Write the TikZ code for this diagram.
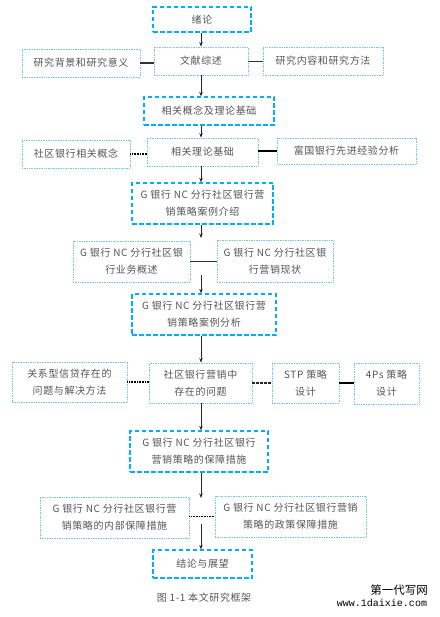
\documentclass[tikz,border=0pt]{standalone}
\usepackage{fontspec}
\setmainfont{Noto Sans CJK SC}[LetterSpace=6]
\newfontfamily\plaincjk{Noto Sans CJK SC}
\newfontfamily\webfont{Liberation Mono}
\usetikzlibrary{positioning,calc,arrows.meta}

\definecolor{mainblue}{RGB}{0,176,240}
\definecolor{subblue}{RGB}{110,200,238}
\definecolor{txtgray}{RGB}{85,85,85}

\tikzset{
  mainbox/.style={draw=mainblue, dashed, dash pattern=on 4.5pt off 2.5pt, line width=1.3pt, rectangle, inner sep=2pt, text=txtgray, align=center, font=\fontsize{10}{17}\selectfont},
  subbox/.style={draw=subblue, densely dotted, line width=0.7pt, rectangle, inner sep=2pt, text=txtgray, align=center, font=\fontsize{10}{17}\selectfont},
  arr/.style={-{Stealth[length=4.5pt,width=3.5pt]}, line width=0.7pt, black!85},
  thinlink/.style={line width=0.7pt, black!80},
  thicklink/.style={line width=1.6pt, black},
  dotlink/.style={line width=1.4pt, black, dash pattern=on 0.8pt off 0.8pt},
  dashlink/.style={line width=1.2pt, black!85, dash pattern=on 2.5pt off 1.5pt}
}

\begin{document}
\begin{tikzpicture}[x=1pt, y=-1pt]
    \useasboundingbox (0,0) rectangle (439,617);
    \coordinate (spine) at (201,0);

    % intro
    \node [mainbox, minimum width=98pt, minimum height=25pt] (xulun) at (202,19.5) {绪论};
    \node [subbox, minimum width=94pt, minimum height=28pt] (wenxian) at (201,61) {文献综述};
    \node [subbox, minimum width=118pt, minimum height=28pt] (beijing) at (81,63) {研究背景和研究意义};
    \node [subbox, minimum width=120pt, minimum height=28pt] (fangfa) at (323,61) {研究内容和研究方法};

    % theory
    \node [mainbox, minimum width=130pt, minimum height=28pt] (lilun) at (209,111) {相关概念及理论基础};
    \node [subbox, minimum width=111pt, minimum height=28pt] (jichu) at (202.5,152) {相关理论基础};
    \node [subbox, minimum width=108pt, minimum height=28pt] (gainian) at (76,154) {社区银行相关概念};
    \node [subbox, minimum width=139pt, minimum height=26pt] (fuguo) at (346.5,151) {富国银行先进经验分析};

    % case
    \node [mainbox, minimum width=141pt, minimum height=41pt] (jieshao) at (202.5,203.5) {G 银行 NC 分行社区银行营\\销策略案例介绍};
    \node [subbox, minimum width=117pt, minimum height=41pt] (yewu) at (131.5,261.5) {G 银行 NC 分行社区银\\行业务概述};
    \node [subbox, minimum width=116pt, minimum height=42pt] (xianzhuang) at (275,261) {G 银行 NC 分行社区银\\行营销现状};

    % analysis
    \node [mainbox, minimum width=144pt, minimum height=41pt] (fenxi) at (204,314.5) {G 银行 NC 分行社区银行营\\销策略案例分析};
    \node [subbox, minimum width=115pt, minimum height=40pt] (xindai) at (69.5,382) {关系型信贷存在的\\问题与解决方法};
    \node [subbox, minimum width=103pt, minimum height=40pt] (wenti) at (200.5,383) {社区银行营销中\\存在的问题};
    \node [subbox, minimum width=67pt, minimum height=40pt] (stp) at (305.5,383) {STP 策略\\设计};
    \node [subbox, minimum width=65pt, minimum height=41pt] (sips) at (386.5,383.5) {4Ps 策略\\设计};

    % measures
    \node [mainbox, minimum width=138pt, minimum height=41pt] (baozhang) at (199,451.5) {G 银行 NC 分行社区银行\\营销策略的保障措施};
    \node [subbox, minimum width=149pt, minimum height=41pt] (neibu) at (114.5,517.5) {G 银行 NC 分行社区银行营\\销策略的内部保障措施};
    \node [subbox, minimum width=151pt, minimum height=41pt] (zhengce) at (290.5,516.5) {G 银行 NC 分行社区银行营销\\策略的政策保障措施};
    \node [mainbox, minimum width=99pt, minimum height=28pt] (jielun) at (202.5,564) {结论与展望};

    % caption and mark
    \node [text=txtgray, font=\fontsize{10}{12}\selectfont] (caption) at (204,598) {图 1-1 本文研究框架};
    \node [font=\plaincjk\fontsize{11.5}{13}\selectfont] (mark) at (399,590) {第一代写网};
    \node [font=\webfont\fontsize{10}{12}\selectfont] (site) at (382,603) {www.1daixie.com};

    % spine
    \coordinate (gap1) at (201,238);
    \coordinate (gap1b) at (201,275);
    \coordinate (gap2) at (201,498);
    \coordinate (gap2b) at (201,524);
    \draw [arr] (spine |- xulun.south) -- (spine |- wenxian.north);
    \draw [arr] (spine |- wenxian.south) -- (spine |- lilun.north);
    \draw [arr] (spine |- lilun.south) -- (spine |- jichu.north);
    \draw [arr] (spine |- jichu.south) -- (spine |- jieshao.north);
    \draw [arr] (spine |- jieshao.south) -- (gap1);
    \draw [arr] (gap1b) -- (spine |- fenxi.north);
    \draw [arr] (spine |- fenxi.south) -- (spine |- wenti.north);
    \draw [arr] (spine |- wenti.south) -- (spine |- baozhang.north);
    \draw [arr] (spine |- baozhang.south) -- (gap2);
    \draw [arr] (gap2b) -- (spine |- jielun.north);

    % side links
    \draw [thinlink, line width=1.1pt] (beijing.east) -- (beijing.east -| wenxian.west);
    \draw [thinlink] (wenxian.east) -- (wenxian.east -| fangfa.west);
    \draw [dotlink] (gainian.east) -- (gainian.east -| jichu.west);
    \draw [thicklink] (jichu.east |- fuguo.west) -- (fuguo.west);
    \draw [thinlink] (yewu.east) -- (yewu.east -| xianzhuang.west);
    \draw [dotlink] (xindai.east) -- (xindai.east -| wenti.west);
    \draw [dashlink] (wenti.east) -- (wenti.east -| stp.west);
    \draw [thicklink] (stp.east) -- (stp.east -| sips.west);
    \draw [dotlink] (neibu.east |- zhengce.west) -- (zhengce.west);
\end{tikzpicture}
\end{document}
